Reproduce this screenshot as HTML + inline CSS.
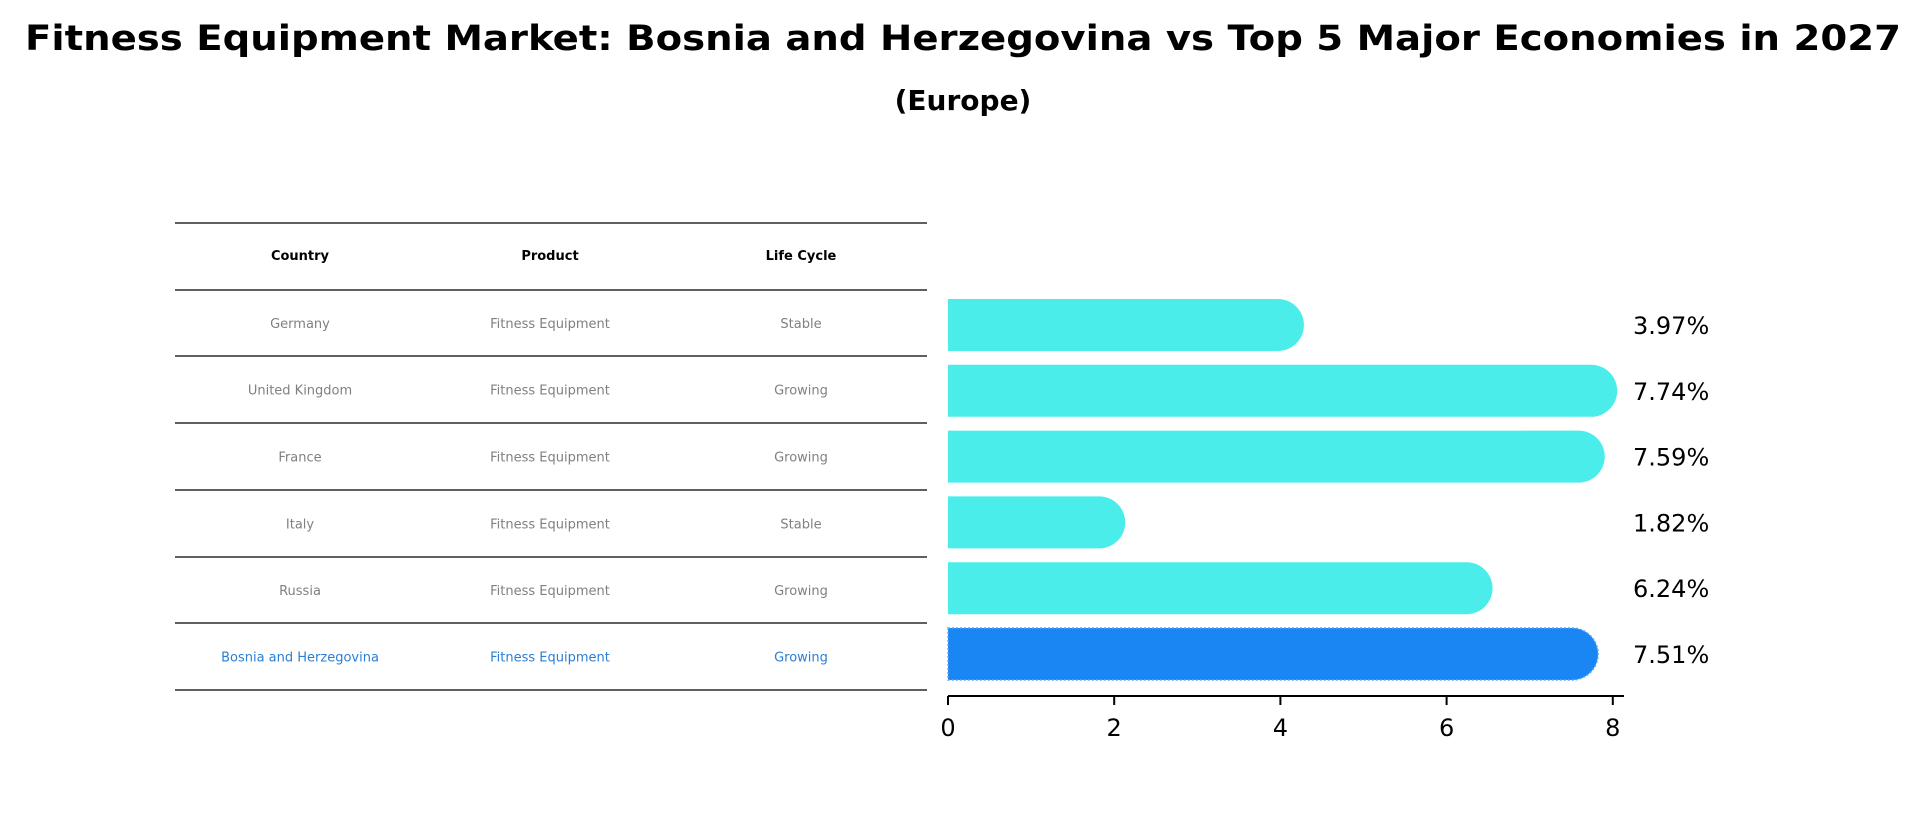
<!DOCTYPE html>
<html><head><meta charset="utf-8"><style>
html,body{margin:0;padding:0;background:#fff;}
svg{display:block;font-family:"DejaVu Sans","Liberation Sans",sans-serif;}
</style></head><body>
<svg id="chart" width="1926" height="823" viewBox="0 0 1926 823" xmlns="http://www.w3.org/2000/svg">
<text x="963" y="50" text-anchor="middle" font-size="35" font-weight="bold" textLength="1876" lengthAdjust="spacingAndGlyphs">Fitness Equipment Market: Bosnia and Herzegovina vs Top 5 Major Economies in 2027</text>
<text x="963" y="110" text-anchor="middle" font-size="28" font-weight="bold">(Europe)</text>
<g id="table"></g>
<g id="bars"></g>
</svg>
<script>
const countries = ["Germany","United Kingdom","France","Italy","Russia","Bosnia and Herzegovina"];
const products = ["Fitness Equipment","Fitness Equipment","Fitness Equipment","Fitness Equipment","Fitness Equipment","Fitness Equipment"];
const lifeCycles = ["Stable","Growing","Growing","Stable","Growing","Growing"];
const values = [3.97,7.74,7.59,1.82,6.24,7.51];
const tickValues = [0,2,4,6,8];

const NS="http://www.w3.org/2000/svg";
function mk(tag,attrs,parent){const e=document.createElementNS(NS,tag);for(const k in attrs)e.setAttribute(k,attrs[k]);parent.appendChild(e);return e;}

const x0=948, pxPerUnit=83.1;
function xScale(v){return x0+v*pxPerUnit;}
const rowTop0=299, rowPitch=65.8, barH=52;
function yBar(i){return rowTop0+i*rowPitch;}

// table
const table=document.getElementById('table');
const lineYs=[223,290,356,423,490,557,623,690];
lineYs.forEach((y,i)=>{
  const l=mk('line',{x1:175,x2:927,y1:y,y2:y,stroke:'#000','stroke-width':1.3},table);
  
  
});
const colX=[300,550,801];
const headers=["Country","Product","Life Cycle"];
headers.forEach((h,j)=>{
  const t=mk('text',{x:colX[j],y:260,'text-anchor':'middle','font-size':13,'font-weight':'bold',fill:'#000'},table);
  t.textContent=h;
  
  
});
countries.forEach((c,i)=>{
  const y=(lineYs[i+1]+lineYs[i+2])/2+5;
  const hl=i===countries.length-1;
  const fill=hl?'#2a7fd4':'#808080';
  [c,products[i],lifeCycles[i]].forEach((txt,j)=>{
    const t=mk('text',{x:colX[j],y:y,'text-anchor':'middle','font-size':13,fill:fill},table);
    t.textContent=txt;
    
    
  });
});

// bars
const bars=document.getElementById('bars');
values.forEach((v,i)=>{
  const y=yBar(i), r=barH/2, xe=xScale(v);
  const hl=i===values.length-1;
  const col=hl?'#1a86f4':'#4aede9';
  const p=mk('path',{d:`M${x0},${y} L${xe},${y} A${r},${r} 0 0 1 ${xe},${y+barH} L${x0},${y+barH} Z`,fill:col},bars);
  if(hl){p.setAttribute('stroke','#5aa8f7');p.setAttribute('stroke-dasharray','2,2');p.setAttribute('stroke-width','1.5');}
  
  
  const t=mk('text',{x:1633,y:y+r+9,'font-size':24,fill:'#000'},bars);
  t.textContent=v.toFixed(2)+'%';
  
  
});
// x axis
const ax=mk('line',{x1:x0,x2:1624,y1:696,y2:696,stroke:'#000','stroke-width':2},bars);


tickValues.forEach(v=>{
  const tx=xScale(v);
  const tl=mk('line',{x1:tx,x2:tx,y1:696,y2:705,stroke:'#000','stroke-width':2},bars);
  
  
  const t=mk('text',{x:tx,y:736,'text-anchor':'middle','font-size':24,fill:'#000'},bars);
  t.textContent=String(v);
  
  
});
</script>
</body></html>
